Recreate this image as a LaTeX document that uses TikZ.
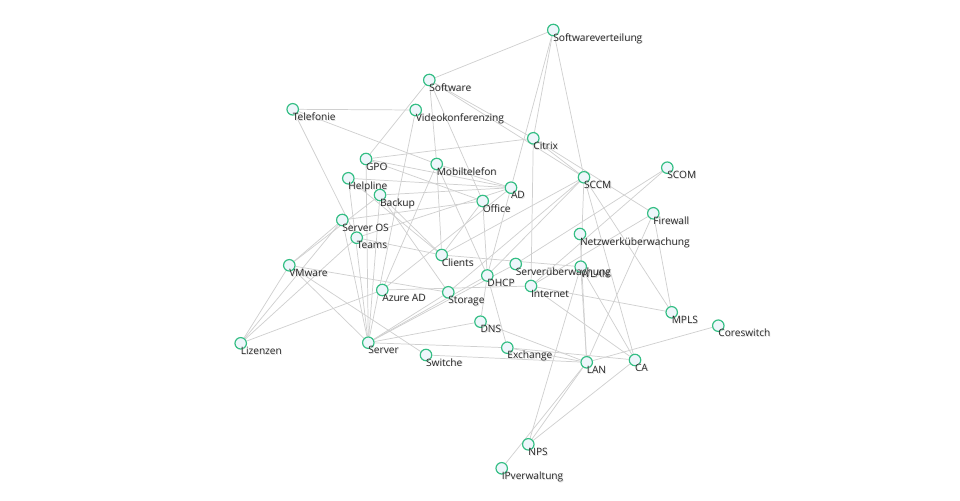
\documentclass[tikz,border=0pt]{standalone}
\usepackage{fontspec}
\setmainfont{Open Sans}
\usepackage{tikz}
\usetikzlibrary{
    calc,
    backgrounds
}
\definecolor{ringgreen}{RGB}{52,190,132}
\definecolor{ringfill}{RGB}{238,246,251}
\definecolor{linkgray}{RGB}{208,208,208}
\tikzset{
    dev/.style={circle, draw=ringgreen, fill=ringfill, line width=0.9pt, minimum size=8.6pt, inner sep=0pt},
    lab/.style={anchor=base west, inner sep=0pt, text=black!85, font=\fontsize{7.6}{9}\selectfont},
    labshadow/.style={lab, text=black!14},
    link/.style={draw=linkgray, line width=0.55pt}
}
\newcommand{\netnode}[4]{
    \node[dev] (#1) at (#2, #3) {};
    \node[labshadow] (#1-s) at ($(#1) + (0.6, 11.8)$) {#4};
    \node[lab] (#1-t) at ($(#1) + (-0.2, 11)$) {#4};
}

\begin{document}
\begin{tikzpicture}[x=0.75pt, y=-0.75pt]
    \useasboundingbox (0, 0) rectangle (960, 500);
    \netnode{sv}{553.3}{30}{Softwareverteilung}
    \netnode{sw}{429.3}{80}{Software}
    \netnode{tel}{292.7}{109.3}{Telefonie}
    \netnode{vk}{415.7}{110}{Videokonferenzing}
    \netnode{citrix}{533.3}{138.3}{Citrix}
    \netnode{gpo}{366}{159}{GPO}
    \netnode{mobil}{436.7}{164}{Mobiltelefon}
    \netnode{scom}{667.3}{167.7}{SCOM}
    \netnode{help}{348.3}{178.3}{Helpline}
    \netnode{sccm}{584}{177.3}{SCCM}
    \netnode{ad}{511}{187.7}{AD}
    \netnode{backup}{380}{195}{Backup}
    \netnode{office}{482.7}{201}{Office}
    \netnode{fw}{653.3}{213.3}{Firewall}
    \netnode{sos}{342.3}{220}{Server OS}
    \netnode{teams}{356.7}{237.7}{Teams}
    \netnode{nwue}{580}{234}{Netzwerküberwachung}
    \netnode{clients}{441.7}{255}{Clients}
    \netnode{vmw}{289.3}{265.3}{VMware}
    \netnode{wlan}{580.7}{266.7}{WLAN}
    \netnode{srvue}{515.7}{264}{Serverüberwachung}
    \netnode{dhcp}{487.3}{275.5}{DHCP}
    \netnode{inet}{531}{286}{Internet}
    \netnode{aad}{382.3}{290}{Azure AD}
    \netnode{storage}{448.3}{292.3}{Storage}
    \netnode{mpls}{671.7}{312.3}{MPLS}
    \netnode{dns}{480.5}{321.7}{DNS}
    \netnode{core}{718.3}{325.7}{Coreswitch}
    \netnode{liz}{240.7}{343.3}{Lizenzen}
    \netnode{server}{368.3}{342.7}{Server}
    \netnode{exch}{507.3}{347.7}{Exchange}
    \netnode{switche}{426}{355}{Switche}
    \netnode{ca}{635}{360}{CA}
    \netnode{lan}{586.7}{362.3}{LAN}
    \netnode{nps}{528.3}{444.3}{NPS}
    \netnode{ipv}{501.7}{468.3}{IPverwaltung}
    \begin{scope}[on background layer]
        \foreach \a/\b in {sv/sw, sv/citrix, sv/ad, sv/sccm,
            sw/gpo, sw/mobil, sw/office, sw/citrix, sw/sccm,
            tel/vk, tel/mobil, tel/teams, vk/server,
            citrix/gpo, citrix/sccm, citrix/fw, citrix/inet,
            gpo/ad, gpo/office, gpo/server,
            mobil/ad, mobil/clients, mobil/aad, mobil/dhcp,
            help/ad, help/server, help/clients,
            backup/clients, backup/server, backup/ad, backup/vmw, backup/storage,
            sos/liz, sos/vmw, sos/office, sos/server,
            teams/liz, teams/clients, teams/ad,
            clients/office, clients/sccm, clients/wlan,
            office/dhcp,
            vmw/liz, vmw/storage, vmw/server, vmw/switche,
            liz/aad, aad/inet, aad/ad,
            storage/server, storage/sccm,
            server/dhcp, server/srvue, server/dns, server/exch,
            switche/lan,
            dhcp/ad, dhcp/dns, dhcp/exch, dhcp/sccm,
            srvue/scom, inet/scom, inet/fw, inet/mpls, inet/ca,
            dns/lan, exch/lan, exch/ca,
            lan/wlan, lan/nwue, lan/fw, lan/nps, lan/ipv, lan/core,
            ca/wlan, ca/sccm, ca/nps, nps/wlan,
            sccm/wlan, sccm/mpls, fw/mpls}
            \draw[link] (\a) -- (\b);
    \end{scope}
\end{tikzpicture}
\end{document}
